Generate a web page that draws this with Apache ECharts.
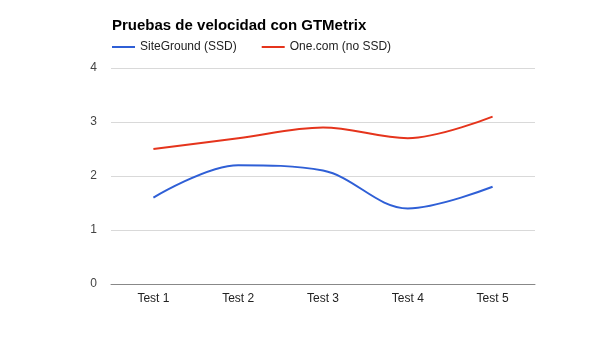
<!DOCTYPE html>
<html>
<head>
<meta charset="utf-8">
<script src="https://cdn.jsdelivr.net/npm/echarts@6/dist/echarts.min.js"></script>
<style>
  html, body { margin: 0; padding: 0; background: #fff; }
  #chart { width: 600px; height: 352px; }
</style>
</head>
<body>
<div id="chart"></div>
<script>
var categories = ['Test 1', 'Test 2', 'Test 3', 'Test 4', 'Test 5'];
var siteGround = [1.6, 2.2, 2.1, 1.4, 1.8];
var oneCom = [2.5, 2.7, 2.9, 2.7, 3.1];
var seriesNames = ['SiteGround (SSD)', 'One.com (no SSD)'];

(function() {
  var font = '"Liberation Sans", Arial, sans-serif';
  var chart = echarts.init(document.getElementById('chart'), null, { renderer: 'canvas' });

  chart.setOption({
    animation: false,
    textStyle: { fontFamily: font },
    title: {
      text: 'Pruebas de velocidad con GTMetrix',
      left: 107,
      top: 13,
      textStyle: { fontFamily: font, fontSize: 15, fontWeight: 'bold', color: '#000' }
    },
    legend: {
      data: seriesNames,
      left: 107,
      top: 36,
      icon: 'rect',
      itemWidth: 23,
      itemHeight: 2,
      itemGap: 25,
      textStyle: { fontFamily: font, fontSize: 12, color: '#222' }
    },
    grid: { left: 111, right: 65, top: 68, bottom: 68, containLabel: false },
    xAxis: {
      type: 'category',
      data: categories,
      boundaryGap: true,
      axisLine: { lineStyle: { color: '#888', width: 1 } },
      axisTick: { show: false },
      axisLabel: { color: '#222', fontSize: 12, fontFamily: font, margin: 9 }
    },
    yAxis: {
      type: 'value',
      min: 0,
      max: 4,
      interval: 1,
      axisLine: { show: false },
      axisTick: { show: false },
      axisLabel: { color: '#444', fontSize: 12, fontFamily: font, margin: 14 },
      splitLine: { lineStyle: { color: '#d9d9d9', width: 1 } }
    },
    series: [
      {
        name: seriesNames[0],
        type: 'line',
        data: siteGround,
        smooth: 0.35,
        symbol: 'none',
        lineStyle: { color: '#2f5fd6', width: 2 },
        itemStyle: { color: '#2f5fd6' }
      },
      {
        name: seriesNames[1],
        type: 'line',
        data: oneCom,
        smooth: 0.35,
        symbol: 'none',
        lineStyle: { color: '#e5341c', width: 2 },
        itemStyle: { color: '#e5341c' }
      }
    ]
  });

  window.addEventListener('resize', function() { chart.resize(); });
})();
</script>
</body>
</html>
